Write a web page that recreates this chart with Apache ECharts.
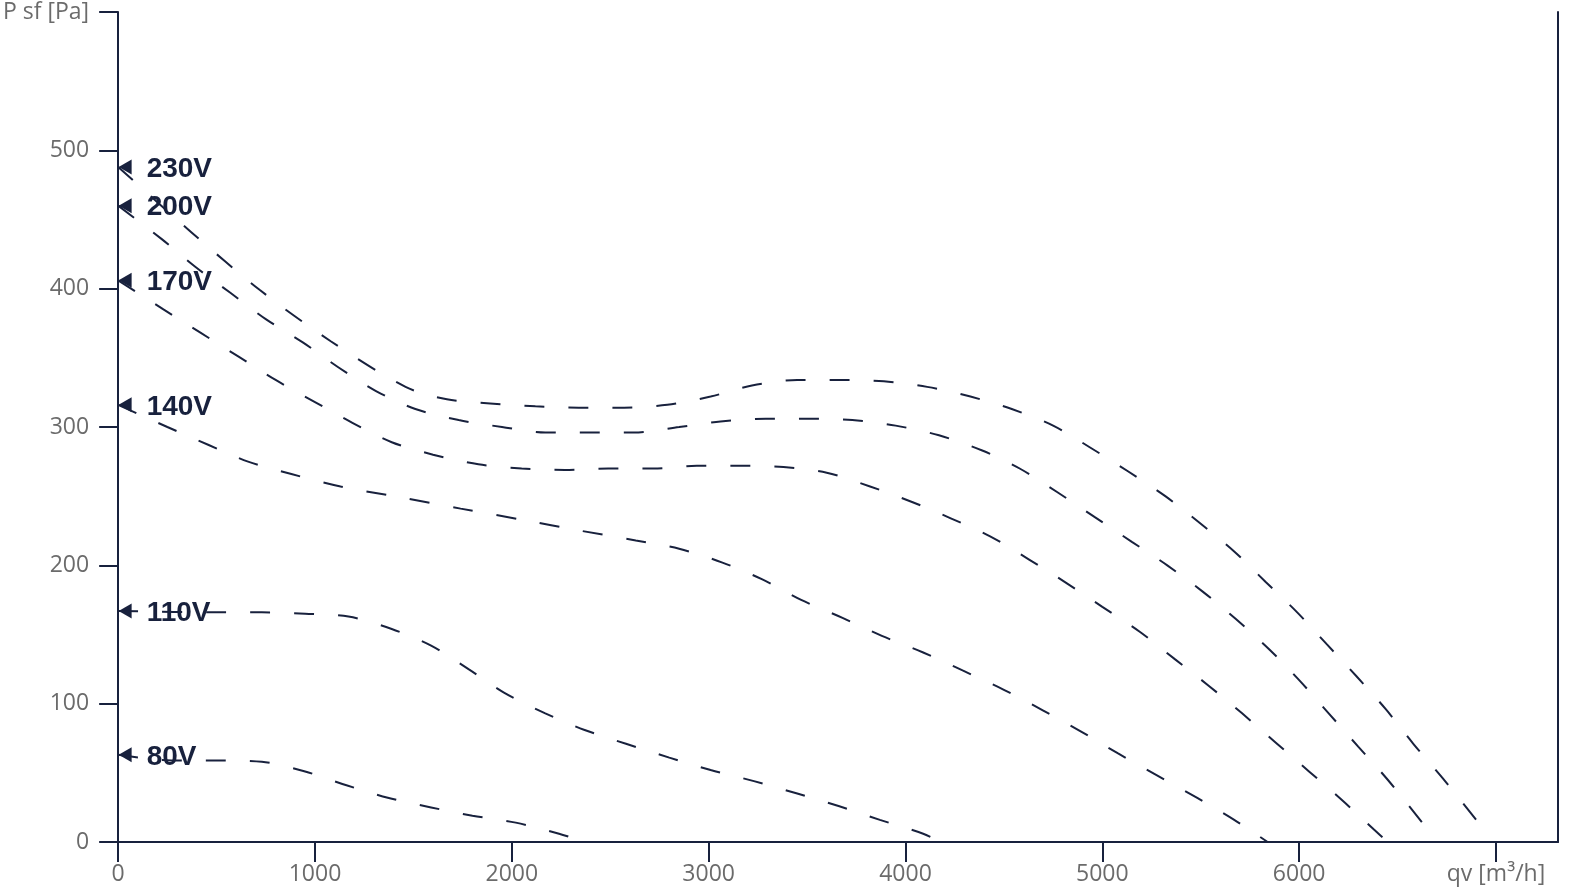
<!DOCTYPE html>
<html>
<head>
<meta charset="utf-8">
<script src="https://cdn.jsdelivr.net/npm/echarts@6/dist/echarts.min.js"></script>
<style>
html,body{margin:0;padding:0;background:#fff;}
#chart{width:1570px;height:896px;}
</style>
</head>
<body>
<div id="chart"></div>
<script>
// ---- data ----
const seriesNames = ['230V', '200V', '170V', '140V', '110V', '80V'];
const curve230 = [[0,488],[370,441],[720,399],[1080,362],[1460,329],[1670,320],[1890,317],[2120,315],[2340,314],[2570,314],[2790,316],[3010,322],[3220,330],[3450,334],[3670,334],[3890,333],[4110,329],[4330,322],[4540,313],[4750,301],[4940,285],[5130,268],[5320,250],[5500,230],[5670,210],[5830,188],[5990,166],[6140,143],[6290,120],[6440,96],[6580,71],[6730,46],[6900,16]];
const curve200 = [[0,460],[220,436],[390,416],[570,397],[750,378],[940,361],[1120,343],[1310,326],[1510,313],[1730,305],[1950,300],[2170,296],[2400,296],[2620,296],[2850,300],[3060,304],[3290,306],[3510,306],[3730,305],[3950,301],[4170,294],[4390,283],[4580,270],[4770,253],[4960,235],[5150,217],[5330,200],[5510,181],[5680,161],[5850,139],[6000,117],[6150,93],[6300,69],[6450,45],[6625,14]];
const curve170 = [[0,406],[230,385],[420,368],[610,351],[800,334],[1000,318],[1190,303],[1390,289],[1600,280],[1830,273],[2050,270],[2270,269],[2490,270],[2720,270],[2940,272],[3160,272],[3380,271],[3600,267],[3820,257],[4030,246],[4230,234],[4430,221],[4630,204],[4820,187],[5000,170],[5190,152],[5370,132],[5540,113],[5710,93],[5880,72],[6050,51],[6220,30],[6380,9],[6450,0]];
const curve140 = [[0,316],[250,300],[460,287],[660,275],[880,266],[1130,257],[1440,249],[1740,241],[2050,233],[2350,225],[2630,218],[2850,212],[3070,202],[3270,190],[3470,175],[3680,162],[3880,149],[4090,137],[4290,124],[4500,110],[4700,95],[4890,80],[5080,64],[5280,48],[5480,32],[5670,16],[5840,0]];
const curve110 = [[0,167],[500,166],[730,166],[950,165],[1170,163],[1390,154],[1590,142],[1780,125],[1960,108],[2170,93],[2370,81],[2580,71],[2800,61],[3010,52],[3230,44],[3450,35],[3660,26],[3870,16],[4090,6],[4180,0]];
const curve80 = [[0,63],[270,59],[500,59],[730,58],[950,51],[1160,41],[1370,32],[1590,25],[1800,19],[2020,14],[2240,6],[2370,0]];
const xTicks = [0,1000,2000,3000,4000,5000,6000,7000];
const xAxisName = 'qv [m³/h]';
const yAxisName = 'P sf [Pa]';

const curves = [curve230, curve200, curve170, curve140, curve110, curve80];

const NAVY = '#18213d';
const GRAY = '#6b6b6b';
const FONT = 'Open Sans';

const lineSeries = curves.map((c, i) => ({
  type: 'line',
  name: seriesNames[i],
  data: c,
  smooth: 0.3,
  showSymbol: false,
  symbol: 'none',
  silent: true,
  z: 3,
  lineStyle: { color: NAVY, width: 2, type: [20, 24] }
}));

const markerSeries = {
  type: 'scatter',
  silent: true,
  z: 2,
  symbol: 'path://M0,5 L10,0 L10,10 Z',
  symbolSize: [13, 15],
  symbolOffset: [7, 0],
  itemStyle: { color: NAVY, opacity: 1 },
  data: curves.map((c, i) => ({ value: [c[0][0], c[0][1]], name: seriesNames[i] })),
  label: {
    show: true,
    position: 'right',
    distance: 15,
    offset: [0, 2],
    formatter: p => p.name,
    fontFamily: 'Liberation Sans',
    fontWeight: 'bold',
    fontSize: 28,
    color: NAVY,
    opacity: 1
  }
};

const chart = echarts.init(document.getElementById('chart'), null, { renderer: 'canvas' });
chart.setOption({
  animation: false,
  backgroundColor: '#fff',
  grid: { left: 117, right: 12, top: 12, bottom: 54, containLabel: false },
  xAxis: {
    type: 'value',
    min: 0,
    max: 7315,
    axisLine: { show: true, onZero: false, lineStyle: { color: NAVY, width: 2 } },
    axisTick: { show: true, length: 20, customValues: xTicks, lineStyle: { color: NAVY, width: 2 } },
    axisLabel: {
      customValues: xTicks,
      margin: 21,
      color: GRAY,
      fontFamily: FONT,
      fontSize: 23,
      formatter: v => (v === 7000 ? xAxisName : String(v))
    },
    splitLine: { show: false }
  },
  yAxis: [{
    type: 'value',
    min: 0,
    max: 600,
    interval: 100,
    axisLine: { show: true, onZero: false, lineStyle: { color: NAVY, width: 2 } },
    axisTick: { show: true, length: 19, lineStyle: { color: NAVY, width: 2 } },
    axisLabel: {
      margin: 29,
      color: GRAY,
      fontFamily: FONT,
      fontSize: 23,
      padding: [5, 0, 0, 0],
      formatter: v => (v === 600 ? yAxisName : String(v))
    },
    splitLine: { show: false }
  }, {
    type: 'value',
    position: 'right',
    min: 0,
    max: 600,
    axisLine: { show: true, onZero: false, lineStyle: { color: NAVY, width: 2 } },
    axisTick: { show: false },
    axisLabel: { show: false },
    splitLine: { show: false }
  }],
  series: [markerSeries].concat(lineSeries)
});
</script>
</body>
</html>
